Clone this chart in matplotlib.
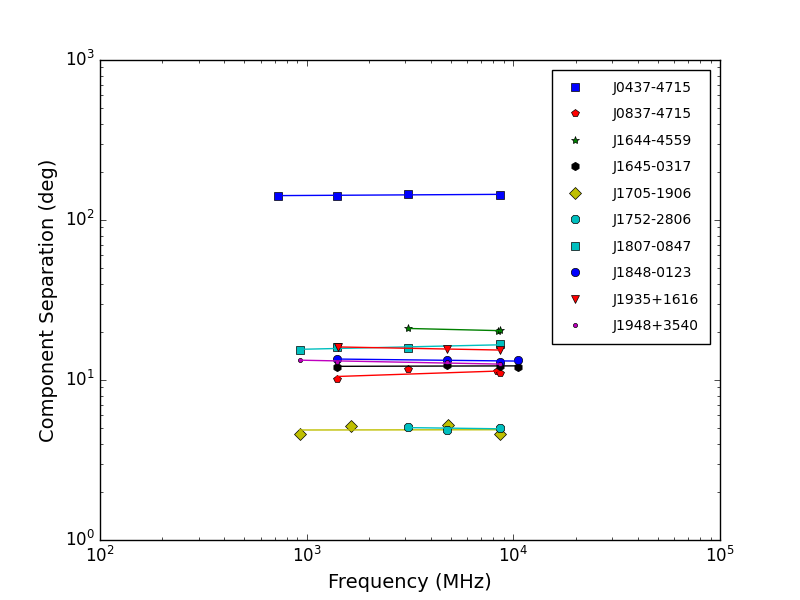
import numpy as np
import matplotlib
matplotlib.use('Agg')
import matplotlib.pyplot as plt

plt.style.use('classic')

# pulsar names, markers and colours as in the legend
names = ['J0437-4715', 'J0837-4715', 'J1644-4559', 'J1645-0317', 'J1705-1906',
         'J1752-2806', 'J1807-0847', 'J1848-0123', 'J1935+1616', 'J1948+3540']
markers = ['s', 'p', '*', 'h', 'D', '8', 's', 'o', 'v', '.']
colors = ['b', 'r', 'g', 'k', 'y', 'c', 'c', 'b', 'r', 'm']

# frequency (MHz) and component separation (deg) for each pulsar
freq_j0437 = [730, 1400, 3100, 8600]
sep_j0437 = [142, 142, 145, 144]
freq_j0837 = [1400, 3100, 8300, 8600]
sep_j0837 = [10.1, 11.7, 11.4, 11.0]
freq_j1644 = [3100, 8400, 8600]
sep_j1644 = [21.0, 20.1, 20.6]
freq_j1645 = [1400, 4800, 8600, 10500]
sep_j1645 = [12.1, 12.4, 12.3, 12.1]
freq_j1705 = [925, 1640, 4850, 8600]
sep_j1705 = [4.6, 5.15, 5.2, 4.6]
freq_j1752 = [3100, 4800, 8600]
sep_j1752 = [5.1, 4.9, 5.0]
freq_j1807 = [925, 1400, 3100, 8600]
sep_j1807 = [15.4, 16.1, 15.8, 16.7]
freq_j1848 = [1400, 4800, 8600, 10500]
sep_j1848 = [13.5, 13.4, 12.9, 13.3]
freq_j1935 = [1410, 4800, 8600]
sep_j1935 = [16.1, 15.6, 15.4]
freq_j1948 = [925, 1400, 4800, 8600]
sep_j1948 = [13.4, 13.0, 12.9, 12.5]

freqs = [freq_j0437, freq_j0837, freq_j1644, freq_j1645, freq_j1705,
         freq_j1752, freq_j1807, freq_j1848, freq_j1935, freq_j1948]
seps = [sep_j0437, sep_j0837, sep_j1644, sep_j1645, sep_j1705,
        sep_j1752, sep_j1807, sep_j1848, sep_j1935, sep_j1948]

fig = plt.figure(figsize=(8, 6), dpi=100, facecolor='white')
ax = fig.add_subplot(111)

for name, m, c, f, s in zip(names, markers, colors, freqs, seps):
    f = np.array(f, dtype=float)
    s = np.array(s, dtype=float)
    ax.plot(f, s, linestyle='none', marker=m, color=c, markeredgecolor='k', label=name)
    # power-law fit between lowest and highest frequency
    p = np.polyfit(np.log10(f), np.log10(s), 1)
    fx = np.array([f.min(), f.max()])
    ax.plot(fx, 10 ** np.polyval(p, np.log10(fx)), '-', color=c)

ax.set_xscale('log')
ax.set_yscale('log')
ax.set_xlim(1e2, 1e5)
ax.set_ylim(1e0, 1e3)
ax.set_xlabel('Frequency (MHz)', fontsize=14)
ax.set_ylabel('Component Separation (deg)', fontsize=14)

ax.legend(loc='upper right', numpoints=1, fontsize=10, labelspacing=0.9,
          borderpad=0.8, handletextpad=1.8, handlelength=1.8, borderaxespad=0.7)

fig.savefig('out.png', dpi=100, facecolor='white')
